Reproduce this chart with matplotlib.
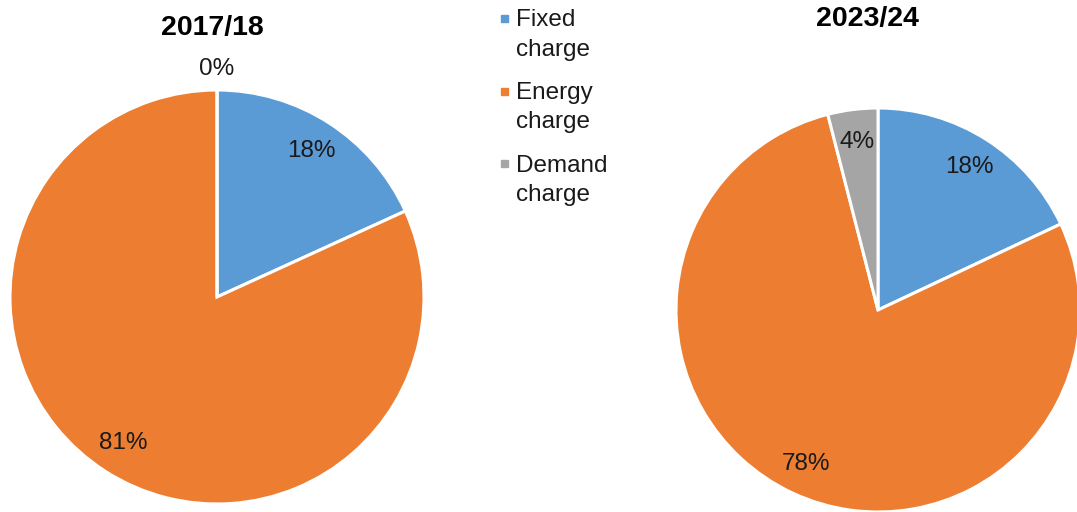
import numpy as np
import matplotlib.pyplot as plt
from matplotlib.patches import Rectangle

plt.rcParams['font.family'] = ['Liberation Sans', 'DejaVu Sans']

categories = ["Fixed\ncharge", "Energy\ncharge", "Demand\ncharge"]
colors = ["#5B9BD5", "#ED7D31", "#A5A5A5"]
years = ["2017/18", "2023/24"]
share_2017 = [18, 81, 0]
share_2023 = [18, 78, 4]

W, H = 1077, 512
fig = plt.figure(figsize=(W / 100, H / 100), dpi=100)


def pie_axes(cx, cy, r):
    # axes placed in pixel terms, pie radius 1 fills the box
    return fig.add_axes([(cx - r) / W, 1 - (cy + r) / H, 2 * r / W, 2 * r / H])


def draw_pie(ax, values):
    wedges, _ = ax.pie(values, colors=colors, startangle=90, counterclock=False,
                       radius=1, wedgeprops=dict(edgecolor="white", linewidth=2.2))
    for w, v in zip(wedges, values):
        ang = np.deg2rad((w.theta1 + w.theta2) / 2)
        r = 1.1 if v == 0 else 0.84
        ax.text(r * np.cos(ang), r * np.sin(ang), f"{v}%", ha="center", va="center",
                fontsize=17.5, color="#1a1a1a")
    ax.set_xlim(-1, 1)
    ax.set_ylim(-1, 1)
    ax.set_aspect("equal")
    ax.axis("off")


ax1 = pie_axes(217, 297, 207)
draw_pie(ax1, share_2017)
ax2 = pie_axes(878, 310, 202)
draw_pie(ax2, share_2023)

fig.text(212 / W, 1 - 28 / H, years[0], ha="center", va="center",
         fontsize=20.5, fontweight="bold")
fig.text(867 / W, 1 - 19 / H, years[1], ha="center", va="center",
         fontsize=20.5, fontweight="bold")

# legend in the middle column
for i, (lab, c) in enumerate(zip(categories, colors)):
    top = 18.5 + i * 72.5
    fig.patches.append(Rectangle((501 / W, 1 - (top + 3.5) / H), 7 / W, 7 / H,
                                 transform=fig.transFigure, color=c))
    fig.text(516 / W, 1 - (top - 9) / H, lab, ha="left", va="top",
             fontsize=17.5, color="#1a1a1a", linespacing=1.44)

fig.savefig("out.png", dpi=100)
